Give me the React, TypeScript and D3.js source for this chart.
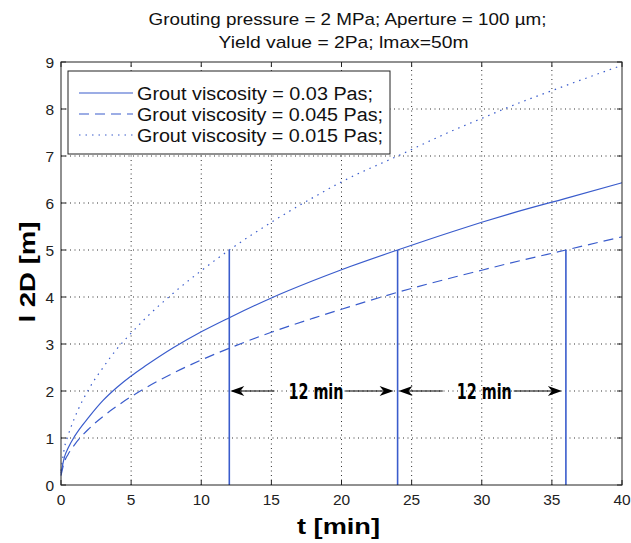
import React from "react";
import * as d3 from "d3";

// Penetration length l 2D [m] versus grouting time t [min]
const times = [0, 0.25, 0.5, 1, 2, 3, 4, 5, 6, 8, 10, 12, 15, 18, 20, 24, 28, 30, 32, 36, 40];
const visc003 = [0.25, 0.6, 0.78, 1.05, 1.45, 1.8, 2.08, 2.32, 2.53, 2.92, 3.26, 3.56, 3.98, 4.35, 4.58, 5.0, 5.4, 5.59, 5.77, 6.1, 6.43];
const visc0045 = [0.2, 0.5, 0.65, 0.87, 1.2, 1.46, 1.68, 1.88, 2.06, 2.38, 2.66, 2.91, 3.25, 3.55, 3.74, 4.1, 4.42, 4.57, 4.72, 5.0, 5.28];
const visc0015 = [0.3, 0.8, 1.05, 1.45, 2.05, 2.5, 2.9, 3.23, 3.54, 4.08, 4.56, 5.0, 5.59, 6.12, 6.45, 7.0, 7.55, 7.8, 8.05, 8.5, 8.93];

const seriesLabels = [
  "Grout viscosity = 0.03 Pas;",
  "Grout viscosity = 0.045 Pas;",
  "Grout viscosity = 0.015 Pas;",
];
const xTicks = [0, 5, 10, 15, 20, 25, 30, 35, 40];
const yTicks = [0, 1, 2, 3, 4, 5, 6, 7, 8, 9];

// Times at which each curve reaches l = 5 m
const markerTimes = [12, 24, 36];
const markerLevel = 5;
// Interval annotations: [from, to] at arrowLevel
const intervals = [[12, 24], [24, 36]];
const intervalLabel = "12 min";
const arrowLevel = 2;

const titleLines = [
  "Grouting pressure = 2 MPa; Aperture = 100 µm;",
  "Yield value = 2Pa; lmax=50m",
];

const W = 631;
const H = 543;
const M = { left: 61, right: 9, top: 62, bottom: 58 };
const BLUE = "#3a5ccc";

export default function App() {
  const x = d3.scaleLinear().domain([0, 40]).range([M.left, W - M.right]);
  const y = d3.scaleLinear().domain([0, 9]).range([H - M.bottom, M.top]);
  const line = d3
    .line<number>()
    .x((_, i) => x(times[i]))
    .y((d) => y(d))
    .curve(d3.curveMonotoneX);

  const series = [
    { values: visc003, dash: undefined as string | undefined, len: 236 },
    { values: visc0045, dash: "10 6", len: 246 },
    { values: visc0015, dash: "1.5 5", len: 246 },
  ];

  const x0 = x(0), x1 = x(40), y0 = y(0), y1 = y(9);
  const tickLen = 5;
  const font = "'Liberation Sans', Arial, sans-serif";

  const arrowHead = (tipX: number, tipY: number, dir: number) => {
    const len = 14, half = 5, notch = 4;
    const pts = [
      [tipX, tipY],
      [tipX - dir * len, tipY - half],
      [tipX - dir * (len - notch), tipY],
      [tipX - dir * len, tipY + half],
    ];
    return <path d={"M" + pts.map((p) => p.join(",")).join("L") + "Z"} fill="#000" />;
  };

  return (
    <svg width={W} height={H} style={{ position: "absolute", left: 0, top: 0, background: "#fff" }}>
      <rect width={W} height={H} fill="#fff" />
      {/* title */}
      <text x={(x0 + x1) / 2 + 6} y={25} textAnchor="middle" fontFamily={font} fontSize={17} textLength={398} lengthAdjust="spacingAndGlyphs" fill="#111">
        {titleLines[0]}
      </text>
      <text x={(x0 + x1) / 2 + 2} y={48} textAnchor="middle" fontFamily={font} fontSize={17} textLength={250} lengthAdjust="spacingAndGlyphs" fill="#111">
        {titleLines[1]}
      </text>

      {/* grid */}
      <g stroke="#000" strokeWidth={1} strokeDasharray="1 3.5" opacity={0.8}>
        {xTicks.slice(1, -1).map((t) => (
          <line key={"gx" + t} x1={x(t)} x2={x(t)} y1={y0} y2={y1} />
        ))}
        {yTicks.slice(1, -1).map((t) => (
          <line key={"gy" + t} x1={x0} x2={x1} y1={y(t)} y2={y(t)} />
        ))}
      </g>

      {/* curves */}
      {series.map((s, i) => (
        <path key={i} d={line(s.values) || ""} fill="none" stroke={BLUE} strokeWidth={1.2} strokeDasharray={s.dash} />
      ))}

      {/* markers where l reaches 5 m */}
      {markerTimes.map((t) => (
        <line key={t} x1={x(t)} x2={x(t)} y1={y0} y2={y(markerLevel)} stroke={BLUE} strokeWidth={1.6} />
      ))}

      {/* interval annotations */}
      {intervals.map(([a, b], i) => {
        const xa = x(a) + 1, xb = x(b) - 4, yy = y(arrowLevel);
        const mid = (xa + xb) / 2 + 4;
        const tw = 55;
        return (
          <g key={i}>
            <line x1={xa + 10} x2={mid - tw / 2 - 14} y1={yy} y2={yy} stroke="#000" strokeWidth={1.2} />
            <line x1={mid + tw / 2 + 2} x2={xb - 10} y1={yy} y2={yy} stroke="#000" strokeWidth={1.2} />
            {arrowHead(xa, yy, -1)}
            {arrowHead(xb, yy, 1)}
            <text x={mid - tw / 2} y={yy + 8} fontFamily="'Liberation Sans Narrow', 'DejaVu Sans Condensed', sans-serif" fontWeight="bold" fontSize={21} textLength={tw} lengthAdjust="spacingAndGlyphs" fill="#000">
              {intervalLabel}
            </text>
          </g>
        );
      })}

      {/* axes box with inward ticks */}
      <rect x={x0} y={y1} width={x1 - x0} height={y0 - y1} fill="none" stroke="#222" strokeWidth={1} />
      <g stroke="#222" strokeWidth={1}>
        {xTicks.map((t) => (
          <g key={"tx" + t}>
            <line x1={x(t)} x2={x(t)} y1={y0} y2={y0 - tickLen} />
            <line x1={x(t)} x2={x(t)} y1={y1} y2={y1 + tickLen} />
          </g>
        ))}
        {yTicks.map((t) => (
          <g key={"ty" + t}>
            <line x1={x0} x2={x0 + tickLen} y1={y(t)} y2={y(t)} />
            <line x1={x1} x2={x1 - tickLen} y1={y(t)} y2={y(t)} />
          </g>
        ))}
      </g>
      {xTicks.map((t) => (
        <text key={"lx" + t} x={x(t)} y={y0 + 20} textAnchor="middle" fontFamily={font} fontSize={15.5} fill="#222">
          {t}
        </text>
      ))}
      {yTicks.map((t) => (
        <text key={"ly" + t} x={x0 - 7} y={y(t) + 5.5} textAnchor="end" fontFamily={font} fontSize={15.5} fill="#222">
          {t}
        </text>
      ))}

      {/* axis labels */}
      <text x={(x0 + x1) / 2 - 3} y={534} textAnchor="middle" fontFamily={font} fontWeight="bold" fontSize={22} textLength={83} lengthAdjust="spacingAndGlyphs" fill="#000">
        t [min]
      </text>
      <text transform={`translate(35,272) rotate(-90)`} textAnchor="middle" fontFamily={font} fontWeight="bold" fontSize={22} textLength={101} lengthAdjust="spacingAndGlyphs" fill="#000">
        l 2D [m]
      </text>

      {/* legend */}
      <g>
        <rect x={68} y={71} width={322} height={83} fill="#fff" stroke="#222" strokeWidth={1} />
        {series.map((s, i) => {
          const ly = 93 + i * 21;
          return (
            <g key={i}>
              <line x1={79} x2={133} y1={ly} y2={ly} stroke={BLUE} strokeWidth={1.2} strokeDasharray={s.dash} />
              <text x={137} y={ly + 6.5} fontFamily={font} fontSize={18} textLength={s.len} lengthAdjust="spacingAndGlyphs" fill="#111">
                {seriesLabels[i]}
              </text>
            </g>
          );
        })}
      </g>
    </svg>
  );
}
